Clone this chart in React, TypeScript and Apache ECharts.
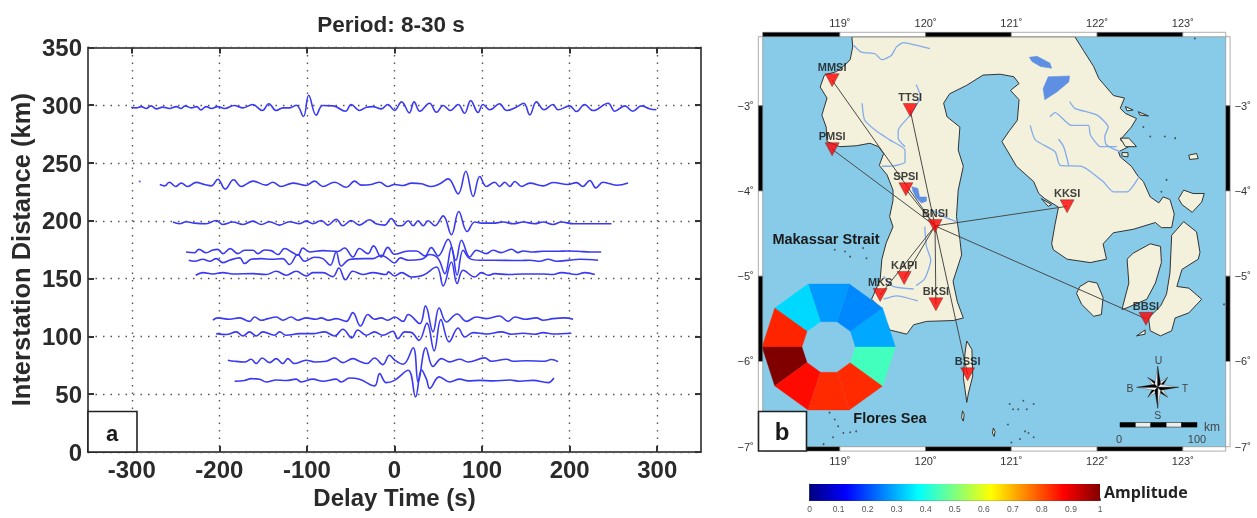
import React, { useEffect, useRef } from "react";
import * as echarts from "echarts";

// ---------- Panel a: cross-correlation traces, [delay time s, distance km] ----------
const trace298 = [[-300.6,298.3],[-295,297.7],[-289,298.8],[-283.5,297.1],[-278,299.4],[-272,296.8],[-264.5,298.3],[-257,297.1],[-249,298.8],[-244,297.1],[-239,299.4],[-232,297.7],[-226,298.8],[-221,295.9],[-215,298.8],[-209,297.1],[-202,298.8],[-194,297.1],[-183,299.7],[-173,297.7],[-162,300.6],[-151,295.4],[-143.5,301.2],[-135,295.4],[-127.5,297.7],[-120,297.7],[-112,300],[-104,290.2],[-98,308.6],[-89.4,291.4],[-82,299.7],[-70,299.4],[-56,294.8],[-49.5,300.6],[-40,295.4],[-32,298.3],[-25,298.8],[-15,296.8],[-7.6,300.6],[0,295.4],[8,302.9],[17,293.4],[22.4,302.9],[29,294.8],[40,301.7],[48,293.9],[55.6,299.7],[63.9,295.4],[72.7,300.6],[80,293],[87,304],[95.5,293.7],[101,300.6],[109,296],[120,301.2],[128,295.4],[139,298.3],[147.6,301.7],[154.5,291.6],[162,302.9],[170.9,296],[181,300.6],[186.8,296],[200,299.4],[207.8,294.5],[217,300.6],[226.8,295.4],[244,301.7],[251.5,294.8],[262.9,299.4],[272,294.8],[282,299.4],[291,297],[299,296]];
const trace232 = [[-268,231.4],[-262.5,230.2],[-257,233.4],[-250,229.7],[-243.5,232.6],[-236,229.7],[-226.4,233.2],[-217,231.4],[-209,230.2],[-201.7,236],[-193.3,227.4],[-183.8,235.5],[-175,229.7],[-161.7,234.3],[-146.5,230.9],[-139,233.4],[-129.4,229.7],[-116,232.6],[-100.8,230.6],[-91.3,234.3],[-81.8,229.7],[-68.5,233.4],[-55,229],[-45.7,234.3],[-38,230.9],[-26.6,231.4],[-17,233.4],[-7.6,229.7],[0,231.4],[10,230.5],[19.4,232.6],[30.8,232],[42,229.7],[51.8,232],[61.3,236.3],[72.7,223.3],[81.4,242.9],[89.8,221],[97.4,238.3],[105,229.7],[114.5,233.4],[120,229.7],[126,233.4],[131.7,229.7],[137.4,234],[145,229.7],[154.5,232.6],[169.7,230.2],[181,233.1],[198,231.4],[207.8,233],[215,229.7],[223,234.9],[230,228.5],[238,233.4],[246,232],[254,230.8],[266.7,232.8]];
const trace198 = [[-253,198.9],[-245.4,197.5],[-237.8,199.2],[-228.3,198],[-215,197.5],[-203.6,200.3],[-196,196.8],[-184.6,198.9],[-173,196.8],[-161.7,199.7],[-152,196.8],[-142.7,199.2],[-131.3,196.3],[-119.9,199.2],[-108.4,197.5],[-100.8,199.7],[-93.2,197.5],[-83.7,200.3],[-76,196.3],[-66.6,201.4],[-59,195.7],[-49.5,200.3],[-40,196.3],[-28.5,200.9],[-21,197.5],[-11.4,196.3],[-3.8,202],[3.8,195.7],[8,195.7],[15.6,200],[21.3,195.7],[27,200],[32.7,195.7],[38.4,200],[46,195.7],[55.6,204.3],[65,187.9],[73.4,208],[83,190.7],[91.7,198.9],[99.3,198],[112.6,198],[124,198.9],[135.5,197.5],[147,198.9],[160,197.5],[169.7,198.9],[181,196.8],[190.6,198.9],[204,197.5],[226.8,197.5],[247.7,197.5]];
const trace173 = [[-238,173],[-228.3,172.4],[-223.4,175.3],[-215,172.4],[-207.4,174.7],[-201.7,175.3],[-196,171.6],[-187.6,175.9],[-178.8,171.6],[-171.2,174.5],[-161.7,174.5],[-156,171.6],[-148.4,174.8],[-140.8,174.2],[-133,170.8],[-125.6,176],[-116,172.4],[-110.4,170.2],[-104.6,176.5],[-97,173],[-81.8,174.2],[-64.7,173.5],[-57,176.5],[-47.6,168.7],[-40,176],[-30.4,171.6],[-24,178.3],[-15.2,168.7],[-7.6,177],[0,171],[15.6,173.9],[25,173.9],[34.6,169.6],[42,176.8],[49.8,169.6],[61.3,184],[70,165.9],[76.5,183.2],[86,168.7],[93.6,174.5],[105,171.6],[112.6,174.5],[122,172.5],[133.5,175.4],[141,172.5],[146.9,173.9],[158,173],[169.7,173.6],[185,173.6],[198,173.9],[209.7,173.6],[223,173],[236,173]];
const trace166 = [[-235,165.9],[-228.3,165],[-218.8,166.7],[-211,165],[-203.6,167.3],[-196,163.8],[-188.4,165.9],[-176.9,167.9],[-171.2,163],[-163.6,166.7],[-152,167.3],[-140.8,166.7],[-127.5,167.3],[-120,162.2],[-110.4,170.8],[-102.7,165],[-91.3,168.5],[-81.8,167.3],[-73.4,161.6],[-66.6,173],[-60.9,160.7],[-51.4,166.5],[-36,167.3],[-24.7,167.3],[-15.2,170.2],[-7.6,167.3],[0,163.5],[6.8,167.9],[15.6,165.9],[30.8,166.7],[40.3,170.8],[49.8,167.3],[57.5,154.3],[65,177.4],[71.5,152.9],[78.4,174.5],[86,167.3],[97.4,165.9],[112.6,165.9],[143,165.6],[154.5,165.9],[166,165],[175.4,166.7],[185,165],[200,166],[211.6,166.7],[232.5,165.9]];
const trace154 = [[-227,152.9],[-218.8,155.2],[-207.4,154],[-196,155.2],[-184.6,154],[-161.7,154.3],[-146.5,153.5],[-135,156.3],[-123.7,152.9],[-112.3,156.3],[-100.8,152.3],[-93.2,155.2],[-81.8,155.2],[-70.4,151.7],[-63.5,159.2],[-56,149],[-47.6,156.3],[-36,153.5],[-24.7,155.2],[-9.5,153.5],[-7,155.8],[0,152.3],[8,155.2],[19.4,151.4],[32.7,152.9],[48,160],[55.6,143.7],[65,164.4],[71.5,145.7],[78.4,157.2],[91.7,151.4],[99.3,155.2],[107,152.9],[114.5,154.3],[129.8,153.5],[147,154],[169.7,154],[181,153.5],[190.6,155.2],[207.8,153.5],[217.3,155.2],[228.7,153.5]];
const trace115 = [[-207.4,114],[-201.7,116],[-188.4,114.8],[-176.9,116],[-165.5,113],[-159.8,116.8],[-152,114],[-144.6,115.4],[-135,116.8],[-127.5,114],[-118,116.8],[-110.4,114],[-100.8,116],[-89.4,114.8],[-83.7,116],[-76,114],[-66.6,115.4],[-55,113],[-47.6,120.6],[-38.8,109],[-30.4,118.9],[-22.8,114.8],[-15.2,116],[-7.6,114],[0.4,116.8],[9.9,113],[15.6,118.9],[28.9,111.1],[35.4,126.4],[44,103.9],[51,124.6],[59.4,112.5],[71.5,119.4],[82,113],[93.6,116.8],[105,115.4],[120,117.7],[129.8,113],[137.4,116.8],[148.8,114.8],[162,116],[169.7,114],[181,115.4],[194.4,116],[204,114.8]];
const trace102 = [[-203.6,102.4],[-192,101.6],[-180.7,103.9],[-173,100.4],[-165.5,103.9],[-158,100.4],[-150.3,103.9],[-137,101],[-131.3,103.9],[-123.7,101],[-108.4,102.4],[-93.2,102.4],[-79.9,103.9],[-68.5,100.4],[-59,106.2],[-48.7,98.7],[-41.9,105.6],[-32.3,101],[-22.8,103.9],[-13.3,101],[-1.9,104.5],[3.8,98.1],[11.8,103.9],[19,103.5],[28,96.6],[37,111.5],[45.3,87.5],[53,114.5],[62.4,95.3],[72.7,107.3],[80.3,99.5],[89.8,103.3],[105,102.1],[122,103.9],[133.5,101.9],[146.9,102.7],[160,101.9],[169.7,103.3],[181,102.1],[202,102.7]];
const trace79 = [[-190.3,79.4],[-182.6,78.5],[-171.2,77.9],[-163.6,80.2],[-158,76.5],[-151,81.3],[-142.7,77.3],[-135,80.8],[-127.5,76.5],[-121.8,80.8],[-114.2,76.5],[-100.8,79.4],[-91.3,77.9],[-78,78.5],[-68.5,81.4],[-59,77.3],[-47.6,80.8],[-40,78.5],[-31.6,76.5],[-22.8,81.3],[-13.3,75.6],[-5.7,83.7],[0.4,79.4],[9.9,75.9],[21.3,90.2],[27,60.5],[35.8,90.2],[44,74],[53.7,80.8],[63,78],[74.6,80.2],[84,77.9],[103,81.4],[110.7,78.5],[127.9,80.2],[135.5,78.5],[150.7,79],[171.6,78.5],[179,80],[186.8,78.2]];
const trace61 = [[-182.6,61.2],[-171.2,61.8],[-163.6,63.5],[-154,63],[-146.5,60.6],[-135,62.3],[-123.7,61.8],[-112.3,63],[-106.5,60.6],[-93.2,63],[-81.8,61.2],[-66.6,63],[-60.9,60.6],[-51.4,64],[-40,63],[-22.8,57.2],[-17,67.8],[-9.5,60],[0,62],[15.6,70.7],[24,47.6],[30.8,71],[36.5,63],[40.3,55],[51,65],[63,60.6],[74.6,63],[84,61.5],[97.4,62],[112.6,61.5],[131.7,62.3],[143,61.2],[158,62],[175.4,60],[182,64]];
const strayPoint = [[-291, 234]];
const traces = [trace298, trace232, trace198, trace173, trace166, trace154, trace115, trace102, trace79, trace61];

const delayTicks = [-300, -200, -100, 0, 100, 200, 300];

// ---------- Panel b: map, [longitude, latitude] ----------
const mainland = [[119.14,-2.19],[119.15,-2.31],[119.12,-2.46],[119.06,-2.52],[118.96,-2.60],[118.82,-2.64],[118.77,-2.78],[118.85,-2.91],[118.79,-3.11],[118.84,-3.25],[118.85,-3.42],[119.00,-3.48],[119.19,-3.47],[119.35,-3.44],[119.45,-3.48],[119.51,-3.56],[119.46,-3.70],[119.55,-3.81],[119.62,-3.99],[119.62,-4.11],[119.58,-4.30],[119.62,-4.42],[119.54,-4.61],[119.49,-4.80],[119.47,-5.04],[119.37,-5.27],[119.47,-5.37],[119.58,-5.63],[119.78,-5.68],[119.86,-5.57],[120.01,-5.53],[120.32,-5.52],[120.44,-5.49],[120.37,-5.30],[120.32,-5.06],[120.42,-4.75],[120.40,-4.57],[120.36,-4.30],[120.38,-3.99],[120.44,-3.71],[120.38,-3.52],[120.40,-3.25],[120.25,-3.13],[120.21,-2.97],[120.28,-2.86],[120.48,-2.76],[120.67,-2.64],[120.87,-2.63],[121.03,-2.66],[121.09,-2.74],[120.99,-2.82],[121.09,-2.93],[121.07,-3.17],[120.98,-3.29],[120.89,-3.42],[121.06,-3.71],[121.26,-3.89],[121.32,-4.03],[121.39,-4.09],[121.55,-4.19],[121.51,-4.39],[121.47,-4.62],[121.49,-4.69],[121.65,-4.80],[121.92,-4.84],[122.11,-4.80],[122.07,-4.62],[122.19,-4.49],[122.42,-4.45],[122.68,-4.37],[122.75,-4.43],[122.87,-4.43],[122.90,-4.27],[122.85,-4.10],[122.77,-4.07],[122.72,-4.14],[122.62,-4.07],[122.54,-3.89],[122.48,-3.83],[122.40,-3.71],[122.27,-3.60],[122.25,-3.54],[122.37,-3.48],[122.27,-3.40],[122.40,-3.25],[122.46,-3.15],[122.33,-3.09],[122.27,-3.03],[122.32,-2.91],[122.19,-2.88],[122.02,-2.68],[121.96,-2.54],[121.84,-2.35],[121.74,-2.19]];
const kabaena = [[121.80,-5.12],[121.90,-5.06],[122.00,-5.08],[122.07,-5.25],[122.05,-5.45],[121.96,-5.47],[121.82,-5.33],[121.76,-5.20]];
const muna = [[122.35,-4.80],[122.42,-4.73],[122.62,-4.62],[122.74,-4.65],[122.75,-4.84],[122.68,-5.08],[122.58,-5.27],[122.35,-5.37],[122.29,-5.39],[122.37,-5.08]];
const buton = [[122.87,-4.52],[123.01,-4.36],[123.16,-4.48],[123.20,-4.72],[123.18,-4.80],[122.99,-4.92],[122.93,-5.12],[123.07,-5.14],[123.22,-5.27],[123.07,-5.43],[122.91,-5.49],[122.87,-5.64],[122.74,-5.70],[122.62,-5.64],[122.60,-5.49],[122.74,-5.35],[122.81,-5.21],[122.85,-4.96]];
const kadatua = [[122.46,-5.70],[122.56,-5.63],[122.56,-5.68]];
const wawonii = [[122.95,-4.09],[123.01,-3.99],[123.12,-4.03],[123.25,-4.03],[123.22,-4.13],[123.11,-4.25],[122.99,-4.16]];
const selayar = [[120.48,-5.76],[120.54,-5.86],[120.55,-6.17],[120.50,-6.37],[120.48,-6.48],[120.46,-6.33],[120.44,-6.19],[120.46,-5.90]];
const islets = [
  [[123.07,-3.58],[123.16,-3.56],[123.18,-3.62],[123.08,-3.63]],
  [[122.27,-3.38],[122.37,-3.38],[122.46,-3.48],[122.33,-3.48]],
  [[122.33,-3.01],[122.42,-3.05],[122.35,-3.06]],
  [[122.48,-3.07],[122.60,-3.12],[122.50,-3.11]],
  [[122.29,-3.55],[122.36,-3.55],[122.36,-3.60],[122.29,-3.59]],
  [[121.35,-4.09],[121.47,-4.16],[121.43,-4.18]],
  [[120.43,-6.58],[120.45,-6.62],[120.44,-6.70],[120.42,-6.66]],
  [[120.79,-6.78],[120.81,-6.82],[120.80,-6.88],[120.78,-6.84]],
];
const landPolygons = [mainland, kabaena, muna, buton, kadatua, wawonii, selayar, ...islets];

const lakeTempe = [[119.84,-3.95],[119.91,-3.97],[119.93,-4.07],[120.01,-4.07],[120.01,-4.12],[119.95,-4.14],[119.89,-4.08],[119.85,-4.00]];
const lakeMatano = [[121.21,-2.43],[121.30,-2.42],[121.45,-2.50],[121.47,-2.56],[121.34,-2.54],[121.24,-2.48]];
const lakeTowuti = [[121.43,-2.66],[121.68,-2.65],[121.67,-2.72],[121.53,-2.84],[121.39,-2.93],[121.37,-2.80]];
const lakePolygons = [lakeTempe, lakeMatano, lakeTowuti];

const rivers = [
  [[119.16,-2.29],[119.25,-2.37],[119.41,-2.39],[119.49,-2.46],[119.60,-2.41],[119.66,-2.31],[119.74,-2.26],[119.89,-2.29],[120.05,-2.33]],
  [[119.26,-2.97],[119.29,-3.17],[119.43,-3.30],[119.58,-3.40],[119.76,-3.52],[119.76,-3.66],[119.58,-3.71],[119.49,-3.71]],
  [[119.89,-2.75],[119.94,-2.89],[119.82,-3.11],[119.68,-3.29],[119.68,-3.38],[119.76,-3.48]],
  [[120.07,-4.22],[120.21,-4.30],[120.36,-4.36]],
  [[119.99,-4.42],[120.01,-4.65],[120.06,-4.81],[119.99,-5.03],[119.89,-5.11]],
  [[119.51,-5.00],[119.62,-5.12],[119.86,-5.15]],
  [[119.51,-5.27],[119.66,-5.23],[119.91,-5.29]],
  [[121.68,-2.95],[121.74,-3.03],[122.00,-3.11],[122.13,-3.25],[122.09,-3.36],[122.11,-3.46],[122.27,-3.54]],
  [[121.45,-3.13],[121.51,-3.08],[121.70,-3.23],[121.90,-3.23],[121.92,-3.34],[122.04,-3.48],[122.23,-3.48]],
  [[121.22,-3.23],[121.28,-3.40],[121.51,-3.54],[121.57,-3.70],[121.82,-3.71],[122.07,-3.89],[122.19,-4.01],[122.35,-4.01],[122.48,-3.85]],
  [[121.55,-3.39],[121.61,-3.48],[121.67,-3.70]],
];

const smallIslandDots = [[118.88,-6.60],[118.94,-6.68],[118.98,-6.76],[119.04,-6.84],[119.12,-6.83],[119.19,-6.82],[118.92,-6.89],[118.81,-6.97],[118.94,-4.69],[119.06,-4.71],[119.12,-4.77],[119.27,-4.67],[119.31,-4.79],[120.98,-6.50],[121.08,-6.56],[121.14,-6.46],[121.26,-6.50],[121.02,-6.56],[121.18,-6.56],[120.96,-6.74],[121.16,-6.82],[121.20,-6.84],[121.10,-6.91],[121.26,-6.89],[121.00,-6.95],[122.54,-3.25],[122.62,-3.36],[122.79,-3.36],[122.91,-3.38],[122.81,-3.87],[122.75,-4.01],[123.14,-2.21],[123.48,-5.33]];

const stationNames = ["MMSI", "TTSI", "PMSI", "SPSI", "BNSI", "KKSI", "KAPI", "MKS", "BKSI", "BSSI", "BBSI"];
const stationLon = [118.91, 119.82, 118.91, 119.77, 120.11, 121.65, 119.75, 119.47, 120.12, 120.49, 122.57];
const stationLat = [-2.70, -3.05, -3.51, -3.98, -4.41, -4.18, -5.02, -5.22, -5.33, -6.15, -5.50];
const hubStation = "BNSI";

const lonTicks = [119, 120, 121, 122, 123];
const latTicks = [-3, -4, -5, -6, -7];
const lonStops = [118.1, 119, 120, 121, 122, 123, 123.5];
const latStops = [-2.19, -3, -4, -5, -6, -7];

// Azimuth wheel: one amplitude per 36-degree sector, counter-clockwise from east
const wheelAmplitude = [0.29, 0.258, 0.275, 0.3375, 0.84, 1.0, 0.865, 0.834, 0.834, 0.44];
const wheelCentre = [118.87, -5.83];
const wheelRadii = [0.312, 0.778];

const jet = (v: number) => {
  const c = (x: number) => Math.round(255 * Math.max(0, Math.min(1, x)));
  return `rgb(${c(1.5 - Math.abs(4 * v - 3))},${c(1.5 - Math.abs(4 * v - 2))},${c(1.5 - Math.abs(4 * v - 1))})`;
};

const LEFT_FONT = "'Liberation Sans', Arial, sans-serif";
const BLUE = "#3a3af2";
const INK = "#2a2a2a";

function buildOption() {
  const hubIdx = stationNames.indexOf(hubStation);
  const hub = [stationLon[hubIdx], stationLat[hubIdx]];
  const corner = (api: any) => ({ tl: api.coord([lonStops[0], latStops[0]]), br: api.coord([lonStops[lonStops.length - 1], latStops[latStops.length - 1]]) });

  const bands: { side: string; a: number; b: number; black: boolean }[] = [];
  for (let i = 0; i < lonStops.length - 1; i++) {
    bands.push({ side: "top", a: lonStops[i], b: lonStops[i + 1], black: i % 2 === 0 });
    bands.push({ side: "bottom", a: lonStops[i], b: lonStops[i + 1], black: i % 2 === 0 });
  }
  for (let i = 0; i < latStops.length - 1; i++) {
    bands.push({ side: "left", a: latStops[i], b: latStops[i + 1], black: i % 2 === 1 });
    bands.push({ side: "right", a: latStops[i], b: latStops[i + 1], black: i % 2 === 1 });
  }

  const mapAxes = { xAxisIndex: 2, yAxisIndex: 2 };

  const polygonSeries = (polys: number[][][], fill: string, stroke: string, z: number, lineWidth: number) => ({
    type: "custom",
    ...mapAxes,
    z,
    silent: true,
    data: polys.map((p) => p[0]),
    renderItem: (params: any, api: any) => ({
      type: "polygon",
      shape: { points: polys[params.dataIndex].map((p) => api.coord(p)) },
      style: { fill, stroke, lineWidth },
    }),
  });

  const series: any[] = [
    ...traces.map((t) => ({
      type: "line",
      xAxisIndex: 0,
      yAxisIndex: 0,
      data: t,
      symbol: "none",
      smooth: 0.4,
      silent: true,
      z: 3,
      lineStyle: { color: BLUE, width: 1.6 },
    })),
    { type: "scatter", xAxisIndex: 0, yAxisIndex: 0, data: strayPoint, symbolSize: 2, itemStyle: { color: BLUE }, silent: true },

    polygonSeries(landPolygons, "#f3f1dc", "#333", 2, 1),
    polygonSeries(lakePolygons, "#5f8fe3", "#5f8fe3", 3, 0.5),
    ...rivers.map((r) => ({
      type: "line",
      ...mapAxes,
      data: r,
      symbol: "none",
      smooth: 0.2,
      silent: true,
      z: 3,
      lineStyle: { color: "#82abec", width: 1.3 },
    })),
    { type: "scatter", ...mapAxes, data: smallIslandDots, symbolSize: 1.8, itemStyle: { color: "#333" }, silent: true, z: 3 },
    ...stationNames
      .map((_, i) => i)
      .filter((i) => i !== hubIdx)
      .map((i) => ({
        type: "line",
        ...mapAxes,
        data: [hub, [stationLon[i], stationLat[i]]],
        symbol: "none",
        silent: true,
        z: 4,
        lineStyle: { color: "#4a4a4a", width: 1 },
      })),
    {
      type: "custom",
      ...mapAxes,
      z: 5,
      silent: true,
      data: wheelAmplitude.map((v) => [wheelCentre[0], wheelCentre[1], v]),
      renderItem: (params: any, api: any) => {
        const k = params.dataIndex;
        const step = (2 * Math.PI) / wheelAmplitude.length;
        const at = (r: number, ang: number) => api.coord([wheelCentre[0] + r * Math.cos(ang), wheelCentre[1] + r * Math.sin(ang)]);
        const a0 = k * step;
        const a1 = (k + 1) * step;
        const col = jet(wheelAmplitude[k]);
        return {
          type: "polygon",
          shape: { points: [at(wheelRadii[1], a0), at(wheelRadii[1], a1), at(wheelRadii[0], a1), at(wheelRadii[0], a0)] },
          style: { fill: col, stroke: col, lineWidth: 0.3 },
        };
      },
    },
    {
      type: "scatter",
      ...mapAxes,
      z: 6,
      silent: true,
      data: stationNames.map((n, i) => ({ name: n, value: [stationLon[i], stationLat[i]] })),
      symbol: "triangle",
      symbolRotate: 180,
      symbolSize: [14, 13],
      itemStyle: { color: "#ff0000", borderColor: "#552222", borderWidth: 0.5 },
      label: {
        show: true,
        position: "top",
        distance: 1,
        formatter: "{b}",
        color: "#111",
        fontFamily: LEFT_FONT,
        fontWeight: "bold",
        fontSize: 11,
      },
    },
    {
      type: "custom",
      ...mapAxes,
      z: 7,
      silent: true,
      clip: false,
      data: bands.map(() => [lonStops[0], latStops[0]]),
      renderItem: (params: any, api: any) => {
        const b = bands[params.dataIndex];
        const { tl, br } = corner(api);
        const T = 4.4;
        let rect;
        if (b.side === "top" || b.side === "bottom") {
          const x0 = api.coord([b.a, latStops[0]])[0];
          const x1 = api.coord([b.b, latStops[0]])[0];
          rect = { x: x0, y: b.side === "top" ? tl[1] - T : br[1], width: x1 - x0, height: T };
        } else {
          const y0 = api.coord([lonStops[0], b.a])[1];
          const y1 = api.coord([lonStops[0], b.b])[1];
          rect = { x: b.side === "left" ? tl[0] - T : br[0], y: y0, width: T, height: y1 - y0 };
        }
        return { type: "rect", shape: rect, style: { fill: b.black ? "#000" : "#fff", stroke: "#777", lineWidth: 0.6 } };
      },
    },
    {
      type: "custom",
      xAxisIndex: 4,
      yAxisIndex: 4,
      silent: true,
      data: [[0, 0]],
      renderItem: (_: any, api: any) => {
        const p0 = api.coord([0, 0]);
        const p1 = api.coord([1, 1]);
        const stops = [0, 0.125, 0.375, 0.625, 0.875, 1];
        return {
          type: "rect",
          shape: { x: p0[0], y: p1[1], width: p1[0] - p0[0], height: p0[1] - p1[1] },
          style: {
            fill: new echarts.graphic.LinearGradient(0, 0, 1, 0, stops.map((o) => ({ offset: o, color: jet(o) }))),
          },
        };
      },
    },
  ];

  // Compass rose
  const arm = (len: number, w: number, rot: number, dark: boolean) => ({
    type: "polygon",
    rotation: rot,
    z: 60,
    shape: { points: [[0, -len], [dark ? w : -w, -w], [0, 0]] },
    style: { fill: dark ? "#000" : "#eee", stroke: "#222", lineWidth: 0.3 },
  });
  const compass: any[] = [];
  [45, 135, 225, 315].forEach((d) => {
    const r = (d * Math.PI) / 180;
    compass.push(arm(14, 3, r, true), arm(14, 3, r, false));
  });
  [0, 90, 180, 270].forEach((d) => {
    const r = (d * Math.PI) / 180;
    compass.push(arm(21, 3, r, false), arm(21, 3, r, true));
  });

  const labelled = (x: number, y: number, text: string, font: any) => ({
    type: "text",
    x,
    y,
    z: 61,
    style: { text, align: "center", verticalAlign: "middle", fontFamily: LEFT_FONT, fill: "#1a1a1a", ...font },
  });
  const box = (x: number, y: number, w: number, h: number) => ({
    type: "rect",
    z: 60,
    shape: { x, y, width: w, height: h },
    style: { fill: "#fff", stroke: "#222", lineWidth: 1.6 },
  });
  const scaleCols = ["#000", "#eee", "#000", "#eee", "#000"];
  const scaleBar = scaleCols.map((c, i) => ({
    type: "rect",
    z: 60,
    shape: { x: 1120 + i * 15.4, y: 422.5, width: 15.4, height: 4.6 },
    style: { fill: c, stroke: "#000", lineWidth: 0.5 },
  }));

  return {
    animation: false,
    backgroundColor: "#fff",
    title: {
      text: "Period: 8-30 s",
      left: 386,
      top: 8,
      textAlign: "center",
      textStyle: { fontFamily: LEFT_FONT, fontWeight: "bold", fontSize: 22.5, color: INK },
    },
    grid: [
      { left: 88, top: 47.4, width: 613, height: 404.6, show: true, backgroundColor: "#fff", borderWidth: 0 },
      { left: 762.7, top: 36.7, width: 463, height: 410, show: true, backgroundColor: "#87cbe8", borderWidth: 0 },
      { left: 809.5, top: 484, width: 290.5, height: 16.7, show: false },
    ],
    xAxis: [
      {
        gridIndex: 0,
        type: "value",
        min: -350,
        max: 350,
        position: "bottom",
        name: "Delay Time (s)",
        nameLocation: "middle",
        nameGap: 27,
        nameTextStyle: { fontFamily: LEFT_FONT, fontWeight: "bold", fontSize: 24, color: INK },
        axisLine: { show: true, onZero: false, lineStyle: { color: "#555", width: 2 } },
        axisTick: { show: true, inside: true, length: 6, customValues: delayTicks, lineStyle: { color: "#333", width: 2 } },
        axisLabel: { customValues: delayTicks, fontFamily: LEFT_FONT, fontWeight: "bold", fontSize: 24, color: INK, margin: 5 },
        splitLine: { show: true, lineStyle: { type: [1.5, 6], color: "#555", width: 1.4 } },
      },
      {
        gridIndex: 0,
        type: "value",
        min: -350,
        max: 350,
        position: "top",
        axisLine: { show: true, onZero: false, lineStyle: { color: "#555", width: 2 } },
        axisTick: { show: true, inside: true, length: 6, customValues: delayTicks, lineStyle: { color: "#333", width: 2 } },
        axisLabel: { show: false },
        splitLine: { show: false },
      },
      {
        gridIndex: 1,
        type: "value",
        min: lonStops[0],
        max: lonStops[lonStops.length - 1],
        position: "top",
        axisLine: { show: false },
        axisTick: { show: false, customValues: lonTicks },
        axisLabel: { customValues: lonTicks, formatter: (v: number) => `${v}˚`, fontFamily: LEFT_FONT, fontSize: 11, color: "#333", margin: 8 },
        splitLine: { show: false },
      },
      {
        gridIndex: 1,
        type: "value",
        min: lonStops[0],
        max: lonStops[lonStops.length - 1],
        position: "bottom",
        axisLine: { show: false },
        axisTick: { show: false, customValues: lonTicks },
        axisLabel: { customValues: lonTicks, formatter: (v: number) => `${v}˚`, fontFamily: LEFT_FONT, fontSize: 11, color: "#333", margin: 9 },
        splitLine: { show: false },
      },
      {
        gridIndex: 2,
        type: "value",
        min: 0,
        max: 1,
        interval: 0.1,
        position: "bottom",
        axisLine: { show: true, lineStyle: { color: "#555", width: 1 } },
        axisTick: { show: true, inside: true, length: 2.5, lineStyle: { color: "#333", width: 0.8 } },
        axisLabel: { fontFamily: LEFT_FONT, fontSize: 8.5, color: "#555", margin: 4 },
        splitLine: { show: false },
      },
    ],
    yAxis: [
      {
        gridIndex: 0,
        type: "value",
        min: 0,
        max: 350,
        interval: 50,
        position: "left",
        name: "Interstation Distance (km)",
        nameLocation: "middle",
        nameGap: 54,
        nameTextStyle: { fontFamily: LEFT_FONT, fontWeight: "bold", fontSize: 25.5, color: INK },
        axisLine: { show: true, onZero: false, lineStyle: { color: "#555", width: 2 } },
        axisTick: { show: true, inside: true, length: 6, lineStyle: { color: "#333", width: 2 } },
        axisLabel: { fontFamily: LEFT_FONT, fontWeight: "bold", fontSize: 24, color: INK, margin: 6 },
        splitLine: { show: true, lineStyle: { type: [1.5, 6], color: "#555", width: 1.4 } },
      },
      {
        gridIndex: 0,
        type: "value",
        min: 0,
        max: 350,
        interval: 50,
        position: "right",
        axisLine: { show: true, onZero: false, lineStyle: { color: "#555", width: 2 } },
        axisTick: { show: true, inside: true, length: 6, lineStyle: { color: "#333", width: 2 } },
        axisLabel: { show: false },
        splitLine: { show: false },
      },
      {
        gridIndex: 1,
        type: "value",
        min: latStops[latStops.length - 1],
        max: latStops[0],
        position: "left",
        axisLine: { show: false },
        axisTick: { show: false, customValues: latTicks },
        axisLabel: { customValues: latTicks, formatter: (v: number) => `−${-v}˚`, fontFamily: LEFT_FONT, fontSize: 11, color: "#333", margin: 9 },
        splitLine: { show: false },
      },
      {
        gridIndex: 1,
        type: "value",
        min: latStops[latStops.length - 1],
        max: latStops[0],
        position: "right",
        axisLine: { show: false },
        axisTick: { show: false, customValues: latTicks },
        axisLabel: { customValues: latTicks, formatter: (v: number) => `−${-v}˚`, fontFamily: LEFT_FONT, fontSize: 11, color: "#333", margin: 9 },
        splitLine: { show: false },
      },
      {
        gridIndex: 2,
        type: "value",
        min: 0,
        max: 1,
        position: "left",
        axisLine: { show: true, lineStyle: { color: "#555", width: 1 } },
        axisTick: { show: false },
        axisLabel: { show: false },
        splitLine: { show: false },
      },
    ],
    series,
    graphic: [
      box(88, 411.5, 49, 40.5),
      labelled(112, 433, "a", { fontSize: 22, fontWeight: "bold" }),
      box(758.5, 411.5, 48, 39.5),
      labelled(782, 431, "b", { fontSize: 24, fontWeight: "bold" }),
      labelled(826, 239, "Makassar Strait", { fontSize: 14.5, fontWeight: "bold" }),
      labelled(890, 418, "Flores Sea", { fontSize: 14.5, fontWeight: "bold" }),
      { type: "group", x: 1157.7, y: 387.3, z: 60, children: compass },
      labelled(1158.5, 360, "U", { fontSize: 10.5, fill: "#444" }),
      labelled(1157.7, 415, "S", { fontSize: 10.5, fill: "#444" }),
      labelled(1130, 387.5, "B", { fontSize: 10.5, fill: "#444" }),
      labelled(1185, 387.5, "T", { fontSize: 10.5, fill: "#444" }),
      ...scaleBar,
      labelled(1119, 439, "0", { fontSize: 11, fill: "#444" }),
      labelled(1197, 439, "100", { fontSize: 11, fill: "#444" }),
      labelled(1212, 427, "km", { fontSize: 12, fill: "#444" }),
      {
        type: "text",
        x: 1104,
        y: 492,
        z: 61,
        style: { text: "Amplitude", verticalAlign: "middle", fontFamily: "'Open Sans', sans-serif", fontWeight: "bold", fontSize: 16, fill: "#222" },
      },
    ],
  };
}

export default function App() {
  const ref = useRef<HTMLDivElement>(null);
  useEffect(() => {
    const chart = echarts.init(ref.current!, undefined, { renderer: "svg" });
    chart.setOption(buildOption() as any);
    return () => chart.dispose();
  }, []);
  return <div ref={ref} style={{ position: "absolute", left: 0, top: 0, width: 1257, height: 518, filter: "blur(0.45px)" }} />;
}
